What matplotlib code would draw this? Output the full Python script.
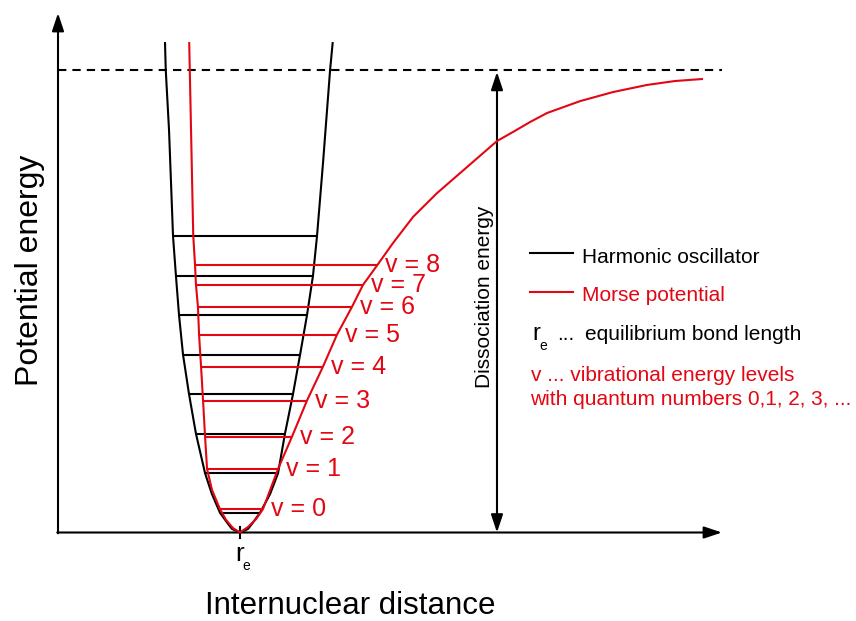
import numpy as np
import matplotlib
matplotlib.use("Agg")
import matplotlib.pyplot as plt
from matplotlib.lines import Line2D

plt.rcParams['font.family'] = ['Liberation Sans', 'DejaVu Sans']

RED = '#e30613'

# distances in units of r_e, energies in units of the harmonic quantum
r_e = 1.0
dissociation_energy = 11.72

# harmonic oscillator potential (black curve)
harm_r = [0.588, 0.592, 0.610, 0.632, 0.648, 0.665, 0.687, 0.720, 0.758, 0.808,
          0.846, 0.890, 0.934, 0.956, 1.000, 1.044, 1.066, 1.110, 1.165, 1.209,
          1.247, 1.291, 1.330, 1.368, 1.401, 1.423, 1.456, 1.495, 1.509]
harm_E = [12.39, 11.71, 10.19, 7.5, 6.5, 5.5, 4.5, 3.5, 2.5, 1.5,
          0.97, 0.5, 0.22, 0.09, 0.0, 0.09, 0.22, 0.5, 0.97, 1.5,
          2.5, 3.5, 4.5, 5.5, 6.5, 7.5, 9.35, 11.71, 12.39]

# harmonic levels v + 1/2 and the walls they end on
harm_levels = [0.5, 1.5, 2.5, 3.5, 4.5, 5.5, 6.5, 7.5]
harm_left = [0.890, 0.808, 0.758, 0.720, 0.687, 0.665, 0.648, 0.632]
harm_right = [1.110, 1.209, 1.247, 1.291, 1.330, 1.368, 1.401, 1.423]

# Morse potential (red curve)
morse_r = [0.721, 0.743, 0.753, 0.758, 0.769, 0.775, 0.786, 0.797, 0.808, 0.819,
           0.846, 0.890, 0.923, 0.962, 1.000, 1.044, 1.088, 1.126, 1.209, 1.286,
           1.368, 1.456, 1.533, 1.615, 1.676, 1.753, 1.841, 1.951, 2.082, 2.247,
           2.412, 2.500, 2.593, 2.687, 2.868, 3.049, 3.236, 3.390, 3.538]
morse_E = [12.39, 7.53, 6.76, 6.27, 5.71, 5.01, 4.20, 3.34, 2.43, 1.61,
           1.08, 0.59, 0.32, 0.11, 0.0, 0.14, 0.34, 0.59, 1.61, 2.43,
           3.34, 4.20, 5.01, 5.71, 6.27, 6.76, 7.33, 7.99, 8.59, 9.25,
           9.91, 10.14, 10.39, 10.62, 10.92, 11.15, 11.33, 11.43, 11.48]

# Morse vibrational levels v = 0..8
quantum_numbers = [0, 1, 2, 3, 4, 5, 6, 7, 8]
morse_levels = [0.59, 1.61, 2.43, 3.34, 4.20, 5.01, 5.71, 6.27, 6.76]
morse_left = [0.890, 0.819, 0.808, 0.797, 0.786, 0.775, 0.769, 0.758, 0.753]
morse_right = [1.126, 1.209, 1.286, 1.368, 1.456, 1.533, 1.615, 1.676, 1.753]

fig = plt.figure(figsize=(8.56, 6.21), dpi=100)
ax = fig.add_axes([0, 0, 1, 1])
ax.set_xlim(-0.3187, 4.3846)
ax.set_ylim(-2.2405, 13.481)
ax.axis('off')

lw = 1.5
arrow = dict(arrowstyle='-|>,head_length=0.6,head_width=0.2', mutation_scale=18,
             color='black', lw=lw, shrinkA=0, shrinkB=0)

# axes with arrow heads
ax.annotate('', xy=(0, 13.15), xytext=(0, -0.02), arrowprops=arrow)
ax.annotate('', xy=(3.648, 0), xytext=(-0.004, 0), arrowprops=arrow)

# dissociation limit
ax.plot([0, 3.648], [dissociation_energy, dissociation_energy], color='black',
        lw=lw, linestyle=(0, (4, 2.9)))

# dissociation energy arrow
darrow = dict(arrow)
darrow['arrowstyle'] = '<|-|>,head_length=0.6,head_width=0.2'
ax.annotate('', xy=(2.412, dissociation_energy - 0.06), xytext=(2.412, 0.0),
            arrowprops=darrow)
ax.text(2.345, 5.96, 'Dissociation energy', rotation=90, ha='center', va='center',
        fontsize=15)

# curves
ax.plot(harm_r, harm_E, color='black', lw=lw, solid_joinstyle='round', zorder=2)
ax.hlines(harm_levels, harm_left, harm_right, color='black', lw=lw, zorder=2)
ax.plot(morse_r, morse_E, color=RED, lw=lw, solid_joinstyle='round', zorder=3)
ax.hlines(morse_levels, morse_left, morse_right, color=RED, lw=lw, zorder=3)

for n, E, r in zip(quantum_numbers, morse_levels, morse_right):
    ax.annotate(f'v = {n}', xy=(r, E), xytext=(6, 0), textcoords='offset points',
                va='center', ha='left', color=RED, fontsize=18)

# equilibrium bond length tick
ax.plot([r_e, r_e], [-0.14, 0.14], color='black', lw=lw)
ax.text(r_e - 0.003, -0.72, 'r', ha='center', va='baseline', fontsize=19)
ax.text(r_e + 0.036, -0.95, 'e', ha='center', va='baseline', fontsize=10)

# axis labels
fig.text(0.0350, 0.5652, 'Potential energy', rotation=90, ha='center', va='center',
         fontsize=23)
fig.text(0.4089, 0.0113, 'Internuclear distance', ha='center', va='baseline',
         fontsize=22.5)

# key
fig.add_artist(Line2D([0.619, 0.669], [0.5926, 0.5926], color='black', lw=lw,
                      transform=fig.transFigure))
fig.text(0.680, 0.5765, 'Harmonic oscillator', fontsize=15, va='baseline')
fig.add_artist(Line2D([0.619, 0.669], [0.5298, 0.5298], color=RED, lw=lw,
                      transform=fig.transFigure))
fig.text(0.680, 0.5145, 'Morse potential', fontsize=15, va='baseline', color=RED)
fig.text(0.6215, 0.4525, 'r', fontsize=17, va='baseline')
fig.text(0.6297, 0.4364, 'e', fontsize=10, va='baseline')
fig.text(0.6507, 0.4525, '...', fontsize=15, va='baseline')
fig.text(0.6834, 0.4525, 'equilibrium bond length', fontsize=15, va='baseline')
fig.text(0.6203, 0.3865, 'v ... vibrational energy levels', fontsize=15,
         va='baseline', color=RED)
fig.text(0.6192, 0.3478, 'with quantum numbers 0,1, 2, 3, ...', fontsize=15,
         va='baseline', color=RED)

fig.savefig('out.png', dpi=100)
